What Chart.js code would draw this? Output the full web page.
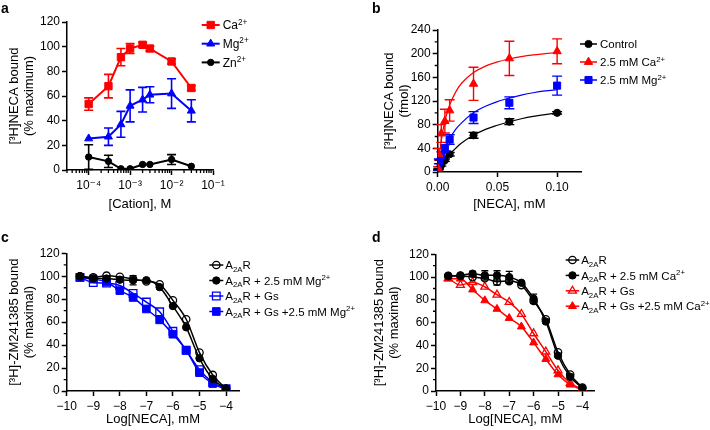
<!DOCTYPE html>
<html>
<head>
<meta charset="utf-8">
<script src="https://cdn.jsdelivr.net/npm/chart.js@4.4.1/dist/chart.umd.min.js"></script>
<style>
  body { margin: 0; background: #fff; width: 710px; height: 430px; position: relative; overflow: hidden; }
  .panel { position: absolute; width: 355px; height: 215px; }
</style>
</head>
<body>
<div class="panel" style="left:0;top:0"><canvas id="chartA" width="355" height="215"></canvas></div>
<div class="panel" style="left:355px;top:0"><canvas id="chartB" width="355" height="215"></canvas></div>
<div class="panel" style="left:0;top:215px"><canvas id="chartC" width="355" height="215"></canvas></div>
<div class="panel" style="left:355px;top:215px"><canvas id="chartD" width="355" height="215"></canvas></div>
<script>
/// data

// a - cation titration
const cationConc = [1e-4, 3e-4, 6e-4, 1e-3, 2e-3, 3e-3, 1e-2, 3e-2];
const caBound = [53.5, 68, 91.5, 98.5, 101.5, 98.5, 88, 66.5];
const caErr = [5, 9.5, 7, 4, 2, 2, 2, 2];
const mgBound = [25.5, 27, 37, 52, 57, 61, 62, 48];
const mgErr = [0, 7, 10.5, 13, 10, 6.5, 12, 9];
const znBound = [10.5, 7, 1, 1, 4.5, 4.5, 8.5, 3];
const znErr = [10, 5, 0, 0, 0, 0, 4, 0];
const cationTicks = [1e-4, 1e-3, 1e-2, 1e-1];
const percentTicks = [0, 20, 40, 60, 80, 100, 120];

// b - saturation binding
const necaConc = [0.0003, 0.001, 0.003, 0.006, 0.01, 0.03, 0.06, 0.1];
const ctrlBound = [1, 5, 12, 20, 30, 62, 85, 100];
const ctrlErr = [0, 1, 2, 2, 3, 5, 5, 2];
const caNeca = [6, 30, 65, 86, 104, 149, 192, 204];
const caNecaErr = [3, 10, 15, 20, 18, 28, 29, 21];
const mgNeca = [4, 18, 28, 39, 55, 92, 117, 146];
const mgNecaErr = [1, 4, 6, 7, 8, 10, 10, 16];
// fitted curves
const fitConc = [0, 0.002, 0.004, 0.006, 0.008, 0.01, 0.015, 0.02, 0.03, 0.04, 0.05, 0.06, 0.07, 0.08, 0.09, 0.1];
const ctrlFit = [0, 7, 14, 20, 25, 30, 40, 49, 62, 72, 79, 85, 90, 94, 97, 100];
const caFit = [0, 38, 66, 86, 101, 113, 135, 150, 168, 179, 186, 191, 195, 198, 200, 202];
const mgFit = [0, 15, 28, 38, 48, 56, 72, 83, 100, 111, 119, 125, 130, 134, 137, 139];
const fmolTicks = [0, 40, 80, 120, 160, 200, 240];
const fmolMinor = [20, 60, 100, 140, 180, 220];
const necaTicks = [0, 0.05, 0.1];

// c / d - competition
const logNeca = [-9.5, -9, -8.5, -8, -7.5, -7, -6.5, -6, -5.5, -5, -4.5, -4];
const cA2ar = [100, 99, 100.5, 99.5, 97.5, 95.5, 93, 79, 62.5, 33.5, 14, 2];
const cA2arMg = [100, 98, 98, 97, 96.5, 96.5, 90.5, 74, 55.5, 28.5, 10.5, 2];
const cA2arMgErr = [0, 3, 0, 0, 4, 1, 0, 1, 0, 0, 0, 0];
const cGs = [99, 94.5, 94, 92, 85, 77.5, 69, 52, 35.5, 18.5, 7.5, 2];
const cGsMg = [99, 97.5, 95, 87.5, 81.5, 71.5, 62, 49.5, 35.5, 16, 6.5, 1.5];
const dA2ar = [101, 101, 100, 99, 96, 96.5, 93, 79, 63, 34, 14.5, 3];
const dA2arErr = [0, 0, 0, 0, 3, 2, 0, 1, 0, 0, 0, 0];
const dA2arCa = [101, 101.5, 103, 101.5, 101.5, 100, 95, 81, 61, 31, 12.5, 2.5];
const dA2arCaErr = [1, 1, 2, 4, 4, 5, 1, 4, 1, 1, 1, 1];
const dGs = [99, 93, 95.5, 91.5, 84.5, 78, 67.5, 50.5, 34.5, 18, 7, 1.5];
const dGsCa = [98.5, 98.5, 89, 79.5, 72, 64, 56.5, 42.5, 28, 14.5, 5.5, 1];
const logTicks = [-10, -9, -8, -7, -6, -5, -4];
const percentMinor = [10, 30, 50, 70, 90, 110];

const RED = "#ff0000";
const BLUE = "#0000ff";
const BLACK = "#000000";
const FONT = "'Liberation Sans', 'DejaVu Sans', Arial, sans-serif";

Chart.defaults.font.family = FONT;
Chart.defaults.font.size = 12;
Chart.defaults.color = "#000";
Chart.defaults.animation = false;

function pts(xs, ys) {
  return xs.map((x, i) => ({ x: x, y: ys[i] }));
}

// text with ^{sup} and _{sub}
function drawRich(ctx, x, y, str, size) {
  const parts = [];
  const re = /([\^_])\{([^}]*)\}/g;
  let last = 0, m;
  while ((m = re.exec(str))) {
    if (m.index > last) parts.push({ t: str.slice(last, m.index), k: "" });
    parts.push({ t: m[2], k: m[1] });
    last = re.lastIndex;
  }
  if (last < str.length) parts.push({ t: str.slice(last), k: "" });
  ctx.save();
  ctx.textBaseline = "alphabetic";
  ctx.textAlign = "left";
  ctx.fillStyle = "#000";
  let cx = x;
  parts.forEach((p) => {
    const fs = p.k ? size * 0.68 : size;
    ctx.font = fs + "px " + FONT;
    const dy = p.k === "^" ? -size * 0.38 : p.k === "_" ? size * 0.24 : 0;
    ctx.fillText(p.t, cx, y + dy);
    cx += ctx.measureText(p.t).width;
  });
  ctx.restore();
}

const errorBars = {
  id: "errorBars",
  beforeDatasetsDraw(chart, args, opts) {
    const ctx = chart.ctx;
    const xs = chart.scales.x, ys = chart.scales.y;
    chart.data.datasets.forEach((ds) => {
      if (!ds.err) return;
      ctx.save();
      ctx.strokeStyle = ds.borderColor;
      ctx.lineWidth = opts.width || 1.5;
      ds.data.forEach((p, i) => {
        const e = ds.err[i];
        if (!e) return;
        const px = xs.getPixelForValue(p.x);
        const top = ys.getPixelForValue(p.y + e);
        const low = Math.max(p.y - e, ys.min);
        const bot = ys.getPixelForValue(low);
        ctx.beginPath();
        ctx.moveTo(px, top);
        ctx.lineTo(px, bot);
        ctx.moveTo(px - opts.cap, top);
        ctx.lineTo(px + opts.cap, top);
        if (p.y - e > ys.min) {
          ctx.moveTo(px - opts.cap, bot);
          ctx.lineTo(px + opts.cap, bot);
        }
        ctx.stroke();
      });
      ctx.restore();
    });
  },
};

const minorTicks = {
  id: "minorTicks",
  afterDraw(chart, args, opts) {
    const ctx = chart.ctx, a = chart.chartArea;
    ctx.save();
    ctx.strokeStyle = "#000";
    ctx.lineWidth = 1.3;
    ctx.beginPath();
    (opts.x || []).forEach((v) => {
      const px = chart.scales.x.getPixelForValue(v);
      ctx.moveTo(px, a.bottom);
      ctx.lineTo(px, a.bottom + opts.len);
    });
    (opts.y || []).forEach((v) => {
      const py = chart.scales.y.getPixelForValue(v);
      ctx.moveTo(a.left, py);
      ctx.lineTo(a.left - opts.len, py);
    });
    ctx.stroke();
    ctx.restore();
  },
};

const richLegend = {
  id: "richLegend",
  afterDraw(chart, args, opts) {
    const ctx = chart.ctx;
    opts.items.forEach((label, i) => {
      const ds = chart.data.datasets.find((d) => d.label === label);
      const y = opts.y + i * opts.dy;
      ctx.save();
      ctx.strokeStyle = ds.borderColor;
      ctx.lineWidth = opts.lineWidth;
      ctx.beginPath();
      ctx.moveTo(opts.x, y);
      ctx.lineTo(opts.x + opts.len, y);
      ctx.stroke();
      ctx.fillStyle = ds.pointBackgroundColor;
      ctx.strokeStyle = ds.pointBorderColor;
      ctx.lineWidth = ds.pointBorderWidth;
      Chart.helpers.drawPoint(ctx, {
        pointStyle: ds.pointStyle,
        radius: ds.pointRadius,
        rotation: 0,
        borderWidth: ds.pointBorderWidth,
      }, opts.x + opts.len / 2, y);
      ctx.restore();
      drawRich(ctx, opts.x + opts.len + opts.gap, y + opts.size * 0.36, ds.rich, opts.size);
    });
    // panel letter
    ctx.save();
    ctx.fillStyle = "#000";
    ctx.font = "bold 14px " + FONT;
    ctx.textBaseline = "alphabetic";
    ctx.fillText(opts.letter, opts.lx, opts.ly);
    ctx.restore();
  },
};

function marker(label, rich, xs, ys, err, color, style, radius, filled, lineWidth) {
  return {
    label: label,
    rich: rich,
    data: pts(xs, ys),
    err: err,
    borderColor: color,
    backgroundColor: color,
    borderWidth: lineWidth,
    showLine: lineWidth > 0,
    pointStyle: style,
    pointRadius: radius,
    pointBorderWidth: filled ? 1 : 1.3,
    pointBorderColor: color,
    pointBackgroundColor: filled ? color : "rgba(255,255,255,0)",
    cubicInterpolationMode: "monotone",
  };
}

function fitLine(label, xs, ys, color) {
  return {
    label: label,
    data: pts(xs, ys),
    borderColor: color,
    borderWidth: 1.2,
    pointRadius: 0,
    cubicInterpolationMode: "monotone",
  };
}

function yAxis(ticks, max, width, title) {
  return {
    min: 0,
    max: max,
    afterBuildTicks: (s) => { s.ticks = ticks.map((v) => ({ value: v })); },
    afterFit: (s) => { s.width = width; },
    border: { color: "#000", width: 1.5 },
    grid: { drawOnChartArea: false, tickLength: 5, tickColor: "#000", tickWidth: 1.5 },
    ticks: { color: "#000", font: { size: 12 }, padding: 2 },
    title: { display: true, text: title, color: "#000", font: { size: 13, lineHeight: 1.15 }, padding: { top: 7, bottom: 0 } },
  };
}

function xAxis(type, ticks, min, max, height, title, fmt) {
  return {
    type: type,
    min: min,
    max: max,
    afterBuildTicks: (s) => { s.ticks = ticks.map((v) => ({ value: v })); },
    afterFit: (s) => { s.height = height; },
    border: { color: "#000", width: 1.5 },
    grid: { drawOnChartArea: false, tickLength: 5, tickColor: "#000", tickWidth: 1.5 },
    ticks: { color: "#000", font: { size: 12 }, padding: 3, maxRotation: 0, autoSkip: false, callback: fmt },
    title: { display: true, text: title, color: "#000", font: { size: 13, lineHeight: 1.15 }, padding: { top: 0, bottom: 3.5 } },
  };
}

function baseOptions(padding, scales, plugins) {
  return {
    responsive: false,
    devicePixelRatio: 1,
    animation: false,
    layout: { padding: padding },
    scales: scales,
    plugins: Object.assign({ legend: { display: false }, tooltip: { enabled: false } }, plugins),
  };
}

const SUP = { "-": "\u207B", "0": "\u2070", "1": "\u00B9", "2": "\u00B2", "3": "\u00B3", "4": "\u2074" };
const powLabel = (v) => "10" + String(Math.round(Math.log10(v))).split("").map((c) => SUP[c]).join("");
const minusLabel = (v) => (v < 0 ? "\u2212" + Math.abs(v) : String(v));

// minor ticks on the log axis
const logMinor = [];
[-5, -4, -3, -2].forEach((d) => {
  for (let k = 2; k <= 9; k++) {
    const v = k * Math.pow(10, d);
    if (v >= 3e-5 && v < 0.1) logMinor.push(v);
  }
});

/// a
new Chart(document.getElementById("chartA"), {
  type: "line",
  data: {
    datasets: [
      marker("Ca", "Ca^{2+}", cationConc, caBound, caErr, RED, "rect", 5.2, true, 2),
      marker("Mg", "Mg^{2+}", cationConc, mgBound, mgErr, BLUE, "triangle", 4.6, true, 2),
      marker("Zn", "Zn^{2+}", cationConc, znBound, znErr, BLACK, "circle", 3.2, true, 2),
    ].map((d) => Object.assign(d, { cubicInterpolationMode: "default", tension: 0 })),
  },
  options: baseOptions({ left: 0, top: 22, right: 142, bottom: 0 }, {
    x: xAxis("logarithmic", cationTicks, 3e-5, 0.1, 45, "[Cation], M", powLabel),
    y: yAxis(percentTicks, 120, 67, ["[\u00B3H]NECA bound", "(% maximum)"]),
  }, {
    errorBars: { cap: 4.5, width: 1.6 },
    minorTicks: { x: logMinor, len: 3 },
    richLegend: { items: ["Ca", "Mg", "Zn"], x: 201.7, y: 25, dy: 18.7, len: 18, gap: 3, size: 12, lineWidth: 2, letter: "a", lx: 1, ly: 13 },
  }),
  plugins: [errorBars, minorTicks, richLegend],
});

/// b
new Chart(document.getElementById("chartB"), {
  type: "line",
  data: {
    datasets: [
      marker("Ca", "2.5 mM Ca^{2+}", necaConc, caNeca, caNecaErr, RED, "triangle", 4.8, true, 0),
      marker("Mg", "2.5 mM Mg^{2+}", necaConc, mgNeca, mgNecaErr, BLUE, "rect", 5, true, 0),
      marker("Control", "Control", necaConc, ctrlBound, ctrlErr, BLACK, "circle", 3.6, true, 0),
      fitLine("caFit", fitConc, caFit, RED),
      fitLine("mgFit", fitConc, mgFit, BLUE),
      fitLine("ctrlFit", fitConc, ctrlFit, BLACK),
    ],
  },
  options: baseOptions({ left: 19.5, top: 30, right: 129, bottom: 0 }, {
    x: xAxis("linear", necaTicks, 0, 0.12, 43, "[NECA], mM", (v) => v.toFixed(2)),
    y: yAxis(fmolTicks, 240, 63.2, ["[\u00B3H]NECA bound", "(fmol)"]),
  }, {
    errorBars: { cap: 5, width: 1.4 },
    minorTicks: { y: fmolMinor, len: 3 },
    richLegend: { items: ["Control", "Ca", "Mg"], x: 225, y: 44, dy: 18, len: 17, gap: 3, size: 11.5, lineWidth: 1.5, letter: "b", lx: 17, ly: 13 },
  }),
  plugins: [errorBars, minorTicks, richLegend],
});

/// c
new Chart(document.getElementById("chartC"), {
  type: "line",
  data: {
    datasets: [
      marker("A2ARMg", "A_{2A}R + 2.5 mM Mg^{2+}", logNeca, cA2arMg, cA2arMgErr, BLACK, "circle", 3.7, true, 1.5),
      marker("A2AR", "A_{2A}R", logNeca, cA2ar, null, BLACK, "circle", 3.7, false, 1.5),
      marker("GsMg", "A_{2A}R + Gs +2.5 mM Mg^{2+}", logNeca, cGsMg, null, BLUE, "rect", 5.4, true, 1.5),
      marker("Gs", "A_{2A}R + Gs", logNeca, cGs, null, BLUE, "rect", 5.4, false, 1.5),
    ],
  },
  options: baseOptions({ left: 0, top: 38.3, right: 115.7, bottom: 0 }, {
    x: xAxis("linear", logTicks, -10, -3.5, 39, "Log[NECA], mM", minusLabel),
    y: yAxis(percentTicks, 120, 66.7, ["[\u00B3H]-ZM241385 bound", "(% maximal)"]),
  }, {
    errorBars: { cap: 3.5, width: 1.4 },
    minorTicks: { y: percentMinor, len: 3 },
    richLegend: { items: ["A2AR", "A2ARMg", "Gs", "GsMg"], x: 209.3, y: 50, dy: 15.5, len: 14, gap: 2, size: 11.5, lineWidth: 1.5, letter: "c", lx: 1, ly: 26.7 },
  }),
  plugins: [errorBars, minorTicks, richLegend],
});

/// d
new Chart(document.getElementById("chartD"), {
  type: "line",
  data: {
    datasets: [
      marker("A2ARCa", "A_{2A}R + 2.5 mM Ca^{2+}", logNeca, dA2arCa, dA2arCaErr, BLACK, "circle", 3.7, true, 1.5),
      marker("A2AR", "A_{2A}R", logNeca, dA2ar, dA2arErr, BLACK, "circle", 3.7, false, 1.5),
      marker("GsCa", "A_{2A}R + Gs +2.5 mM Ca^{2+}", logNeca, dGsCa, null, RED, "triangle", 4.6, true, 1.5),
      marker("Gs", "A_{2A}R + Gs", logNeca, dGs, null, RED, "triangle", 4.6, false, 1.5),
    ],
  },
  options: baseOptions({ left: 9.5, top: 39.3, right: 115.4, bottom: 0 }, {
    x: xAxis("linear", logTicks, -10, -3.5, 39, "Log[NECA], mM", minusLabel),
    y: yAxis(percentTicks, 120, 71.5, ["[\u00B3H]-ZM241385 bound", "(% maximal)"]),
  }, {
    errorBars: { cap: 3.5, width: 1.4 },
    minorTicks: { y: percentMinor, len: 3 },
    richLegend: { items: ["A2AR", "A2ARCa", "Gs", "GsCa"], x: 210.7, y: 45, dy: 15.4, len: 13.5, gap: 2, size: 11.5, lineWidth: 1.5, letter: "d", lx: 17, ly: 26.7 },
  }),
  plugins: [errorBars, minorTicks, richLegend],
});
</script>
</body>
</html>
